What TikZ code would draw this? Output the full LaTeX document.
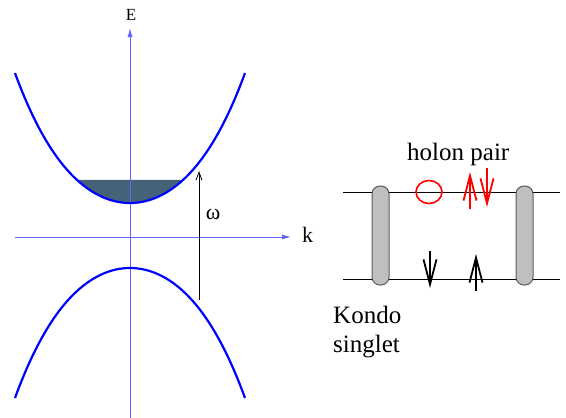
\documentclass[tikz,border=0pt]{standalone}
\usepackage{fontspec}
\setmainfont{Liberation Serif}
\usetikzlibrary{arrows.meta, shapes.geometric}
\definecolor{axisblue}{RGB}{100,100,255}
\definecolor{seablue}{RGB}{69,99,120}
\definecolor{pillgray}{RGB}{191,191,191}

\begin{document}
\begin{tikzpicture}[
    x=1pt, y=-1pt,
    every node/.style={inner sep=0pt},
    axis/.style={draw=axisblue, line width=0.9pt, -{Latex[length=9pt, width=5pt]}},
    band/.style={draw=blue, line width=2.2pt},
    filled/.style={fill=seablue},
    gap/.style={draw=black, line width=0.8pt, -{Straight Barb[length=8pt, width=6pt]}},
    chain/.style={draw=black, line width=0.9pt},
    pill/.style={draw=black!65, fill=pillgray, rounded corners=8pt, line width=1pt,
        minimum width=17pt, minimum height=99pt},
    holon/.style={draw=red, ellipse, line width=1.6pt, minimum width=26pt, minimum height=23pt},
    spin/.style={line width=1.8pt, -{Straight Barb[length=25pt, width=13pt, line width=1.8pt]}},
    small/.style={font=\fontsize{17}{20}\selectfont},
    medium/.style={font=\fontsize{22}{26}\selectfont},
    big/.style={font=\fontsize{25}{29}\selectfont}
]
\useasboundingbox (0,0) rectangle (566,418);

% band structure
\fill[filled] plot[domain=-0.53:0.53, samples=30, smooth]
    ({130+100*\x}, {203-77.7*\x*\x-15.56*\x*\x*\x*\x}) -- cycle;

\coordinate (ybot) at (130,418);
\coordinate (ytop) at (130,28);
\coordinate (xleft) at (15,237);
\coordinate (xright) at (291,237);
\draw[axis] (ybot) -- (ytop);
\draw[axis] (xleft) -- (xright);
\node[small] (E) at (131,15) {E};
\node[medium, anchor=west] (k) at (302,235) {k};

\draw[band] plot[domain=-1.15:1.15, samples=80, smooth]
    ({130+100*\x}, {203-77.7*\x*\x-15.56*\x*\x*\x*\x});
\draw[band] plot[domain=-1.15:1.15, samples=80, smooth]
    ({130+100*\x}, {268+77.7*\x*\x+15.56*\x*\x*\x*\x});

\coordinate (wlow) at (199,300);
\coordinate (whigh) at (199,171);
\draw[gap] (wlow) -- (whigh);
\node[medium] (omega) at (213,214) {ω};

% holon pair and Kondo singlet
\coordinate (tl) at (343,192);
\coordinate (tr) at (560,192);
\coordinate (bl) at (343,279);
\coordinate (br) at (560,279);
\draw[chain] (tl) -- (tr);
\draw[chain] (bl) -- (br);
\node[pill] (pleft) at (380.5,235.5) {};
\node[pill] (pright) at (524.5,235.5) {};

\node[holon] (hole) at (429,192) {};
\coordinate (rup0) at (470,209);
\coordinate (rup1) at (470,172);
\coordinate (rdn0) at (487,168);
\coordinate (rdn1) at (487,207);
\draw[spin, red] (rup0) -- (rup1);
\draw[spin, red] (rdn0) -- (rdn1);

\coordinate (bdn0) at (430,251);
\coordinate (bdn1) at (430,288);
\coordinate (bup0) at (476,291);
\coordinate (bup1) at (476,254);
\draw[spin] (bdn0) -- (bdn1);
\draw[spin] (bup0) -- (bup1);

\node[big, anchor=base west] (pair) at (407,160) {holon pair};
\node[big, anchor=base west] (kondo) at (333,323) {Kondo};
\node[big, anchor=base west] (singlet) at (333,352) {singlet};
\end{tikzpicture}
\end{document}
